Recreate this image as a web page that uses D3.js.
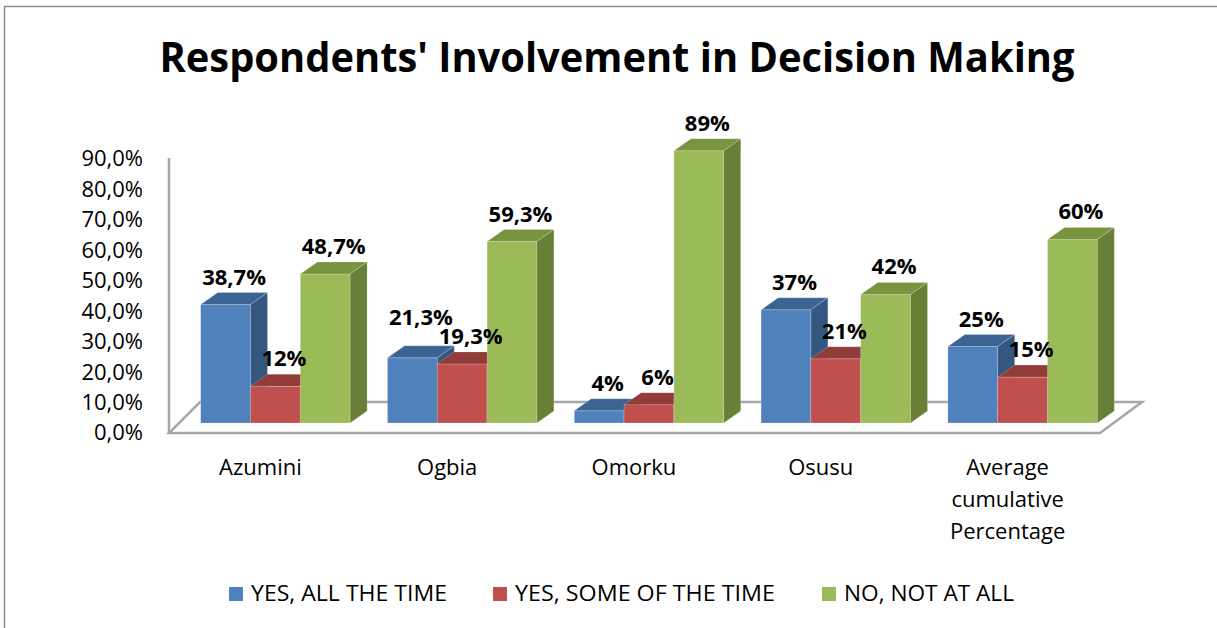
<!DOCTYPE html>
<html>
<head>
<meta charset="utf-8">
<script src="https://cdn.jsdelivr.net/npm/d3@7"></script>
<style>
  html, body { margin: 0; padding: 0; background: #fff; }
  svg { display: block; }
  text { font-family: "Open Sans", "Noto Sans", sans-serif; fill: #000; }
</style>
</head>
<body>
<svg id="chart" width="1217" height="628"></svg>
<script>
// ---- data ----
const categories = ["Azumini", "Ogbia", "Omorku", "Osusu", "Average cumulative Percentage"];
const seriesNames = ["YES, ALL THE TIME", "YES, SOME OF THE TIME", "NO, NOT AT ALL"];
const yesAllTheTime = [38.7, 21.3, 4, 37, 25];
const yesSomeOfTheTime = [12, 19.3, 6, 21, 15];
const noNotAtAll = [48.7, 59.3, 89, 42, 60];
const yTicks = [0, 10, 20, 30, 40, 50, 60, 70, 80, 90];
const titleText = "Respondents' Involvement in Decision Making";

const seriesValues = [yesAllTheTime, yesSomeOfTheTime, noNotAtAll];
const colors = [
  { front: "#4F81BD", top: "#3B6494", side: "#34577F" },
  { front: "#C0504D", top: "#923C3A", side: "#82322F" },
  { front: "#9BBB59", top: "#78943E", side: "#677F36" }
];

const svg = d3.select("#chart");

// chart frame
svg.append("rect").attr("x", 4.5).attr("y", 6.5).attr("width", 1400).attr("height", 800)
  .attr("fill", "#fff").attr("stroke", "#8c8c8c").attr("stroke-width", 1.5);

// title
svg.append("text").attr("x", 617).attr("y", 72).attr("text-anchor", "middle")
  .attr("font-size", 41).attr("font-weight", "bold")
  .attr("textLength", 915).attr("lengthAdjust", "spacingAndGlyphs")
  .text(titleText);

// scales
const x = d3.scaleBand().domain(categories).range([182, 1116]).paddingInner(0.2).paddingOuter(0.1);
const x1 = d3.scaleBand().domain(seriesNames).range([0, x.bandwidth()]).padding(0);
const yAxisScale = d3.scaleLinear().domain([0, 90]).range([432, 158]);
const yBar = d3.scaleLinear().domain([0, 90]).range([423, 423 - 90 * 3.06]);

const depthX = 17, depthY = -12;         // bar depth
const floorFrontY = yAxisScale(0) + 1, floorBackY = 402;
const floorLeft = 169;

// floor
const floorRightFront = x.range()[1] - 16;
const floorPts = [
  [floorLeft, floorFrontY], [floorRightFront, floorFrontY],
  [floorRightFront + 42, floorBackY], [floorLeft + 31, floorBackY]
];
svg.append("polygon").attr("points", floorPts.map(p => p.join(",")).join(" "))
  .attr("fill", "#fff").attr("stroke", "#a6a6a6").attr("stroke-width", 2.5)
  .attr("stroke-linejoin", "miter");

// y axis
const fmtTick = d => d3.format(".1f")(d).replace(".", ",") + "%";
const yAxisG = svg.append("g").attr("transform", `translate(${floorLeft},0)`)
  .call(d3.axisLeft(yAxisScale).tickValues(yTicks).tickFormat(fmtTick)
    .tickSize(0).tickPadding(26));
yAxisG.select(".domain").attr("stroke", "#a6a6a6").attr("stroke-width", 2.5)
  .attr("d", `M0,${floorFrontY}V${yAxisScale(90)}`);
yAxisG.selectAll("text").attr("font-size", 22).attr("font-family", "Open Sans, sans-serif")
  .attr("fill", "#000").attr("dy", "0.36em");

// bars (left to right for correct overlap)
const barsG = svg.append("g");
const labelInfo = [];
categories.forEach((cat, ci) => {
  seriesNames.forEach((s, si) => {
    const v = seriesValues[si][ci];
    const x0 = x(cat) + x1(s), w = x1.bandwidth();
    const yTop = yBar(v), yBot = yBar(0);
    const c = colors[si];
    const g = barsG.append("g");
    g.append("rect").attr("x", x0).attr("y", yTop).attr("width", w).attr("height", yBot - yTop)
      .attr("fill", c.front).attr("stroke", "rgba(255,255,255,0.35)").attr("stroke-width", 0.6);
    g.append("polygon").attr("points", [
      [x0, yTop], [x0 + w, yTop], [x0 + w + depthX, yTop + depthY], [x0 + depthX, yTop + depthY]
    ].map(p => p.join(",")).join(" ")).attr("fill", c.top)
      .attr("stroke", "rgba(255,255,255,0.35)").attr("stroke-width", 0.6);
    g.append("polygon").attr("points", [
      [x0 + w, yTop], [x0 + w + depthX, yTop + depthY], [x0 + w + depthX, yBot + depthY], [x0 + w, yBot]
    ].map(p => p.join(",")).join(" ")).attr("fill", c.side)
      .attr("stroke", "rgba(255,255,255,0.35)").attr("stroke-width", 0.6);
    labelInfo.push({ ci, si, v, cx: x0 + w / 2 + depthX / 2, baseline: yTop + depthY - 8 });
  });
});

// data labels with simple collision avoidance inside each category
const fmtLabel = v => Number.isInteger(v) ? v + "%" : v.toFixed(1).replace(".", ",") + "%";
const labelG = svg.append("g");
const labelNodes = labelInfo.map(d => {
  const t = labelG.append("text").attr("x", d.cx).attr("y", d.baseline)
    .attr("text-anchor", "middle").attr("font-size", 22).attr("font-weight", "bold")
    .text(fmtLabel(d.v));
  return { d, t };
});
for (let i = labelNodes.length - 2; i >= 0; i--) {
  const a = labelNodes[i], b = labelNodes[i + 1];
  if (a.d.ci !== b.d.ci) continue;
  const ba = a.t.node().getBBox(), bb = b.t.node().getBBox();
  const overlapX = ba.x + ba.width > bb.x && bb.x + bb.width > ba.x;
  const overlapY = ba.y + ba.height > bb.y && bb.y + bb.height > ba.y;
  if (overlapX && overlapY) {
    a.d.baseline = b.d.baseline - 19;
    a.t.attr("y", a.d.baseline);
  }
}

// category labels
const catG = svg.append("g");
categories.forEach(cat => {
  const words = cat.split(" ");
  const cx = x(cat) + x.bandwidth() / 2 - 15;
  const t = catG.append("text").attr("x", cx).attr("y", 475)
    .attr("text-anchor", "middle").attr("font-size", 22);
  words.forEach((w, i) => {
    t.append("tspan").attr("x", cx).attr("dy", i === 0 ? 0 : 32).text(w);
  });
});

// legend
const legendX = [229, 493, 822];
const legendW = [196, 260, 170];
const legendG = svg.append("g");
seriesNames.forEach((s, i) => {
  legendG.append("rect").attr("x", legendX[i]).attr("y", 587).attr("width", 14).attr("height", 14)
    .attr("fill", colors[i].front);
  legendG.append("text").attr("x", legendX[i] + 22).attr("y", 601).attr("font-size", 22)
    .attr("textLength", legendW[i]).attr("lengthAdjust", "spacingAndGlyphs").text(s);
});
</script>
</body>
</html>
